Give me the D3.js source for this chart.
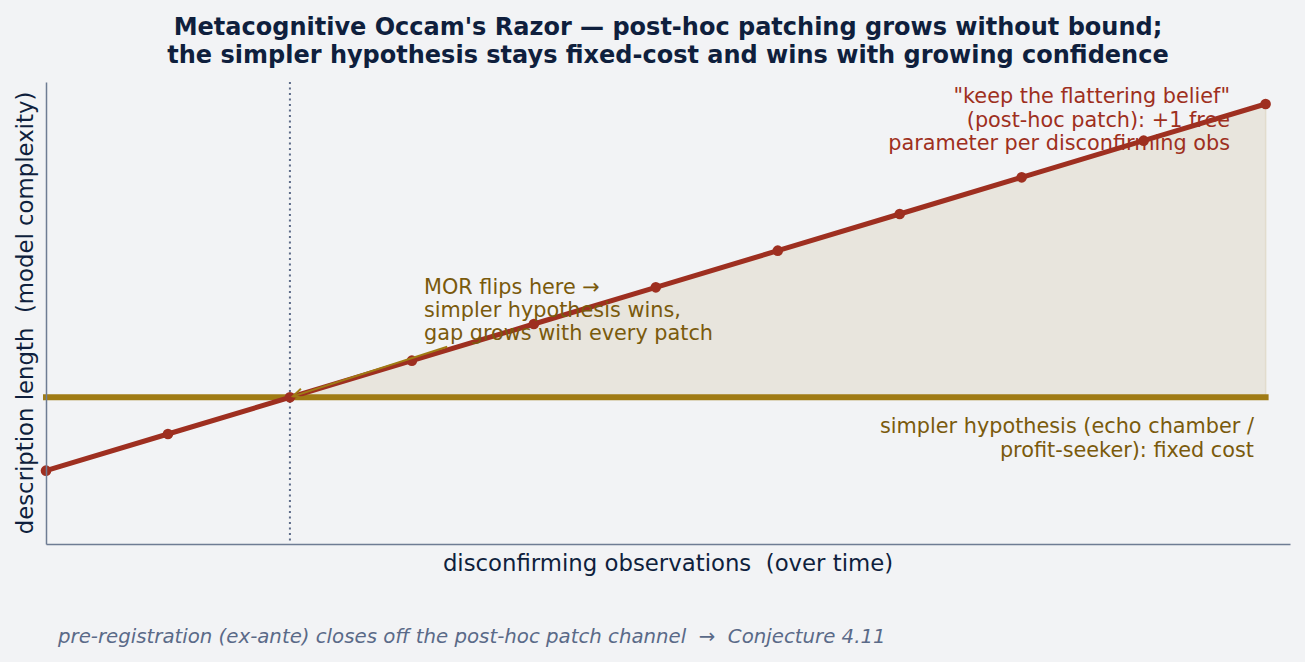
<!DOCTYPE html>
<html><head><meta charset="utf-8">
<script src="https://cdn.jsdelivr.net/npm/d3@7"></script>
<style>
html,body{margin:0;padding:0;background:#f2f3f5;}
svg{display:block;font-family:"DejaVu Sans",sans-serif;}
text{white-space:pre;}
</style></head>
<body>
<svg id="c" width="1305" height="662"></svg>
<script>
// ---- data ----
const observations = [0,1,2,3,4,5,6,7,8,9,10];
const patchedCost = [2,3,4,5,6,7,8,9,10,11,12];
const simpleCost = 4;
const flipX = 2;
const xDomain = [0, 10.2];
const yDomain = [0, 12.6];
const arrowTail = [3.29, 5.38];
const titleLines = ["Metacognitive Occam's Razor \u2014 post-hoc patching grows without bound;",
                    "the simpler hypothesis stays fixed-cost and wins with growing confidence"];
const patchLabel = ["\"keep the flattering belief\"", "(post-hoc patch): +1 free", "parameter per disconfirming obs"];
const simpleLabel = ["simpler hypothesis (echo chamber /", "profit-seeker): fixed cost"];
const flipLabel = ["MOR flips here \u2192", "simpler hypothesis wins,", "gap grows with every patch"];
const xLabel = "disconfirming observations  (over time)";
const yLabel = "description length  (model complexity)";
const footnote = "pre-registration (ex-ante) closes off the post-hoc patch channel  \u2192  Conjecture 4.11";

// ---- layout ----
const M = {left:46, right:1290, top:82, bottom:544};
const RED = "#9e2f20", GOLD = "#a07b14", GOLDTXT = "#7a5a0c", NAVY = "#0f1f3d", SPINE = "#6e7c93";
const svg = d3.select("#c");
const x = d3.scaleLinear().domain(xDomain).range([M.left, M.right]);
const y = d3.scaleLinear().domain(yDomain).range([M.bottom, M.top]);

// fill between (where patched > simple)
const fillData = observations.map((o,i)=>({o, v:patchedCost[i]})).filter(d=>d.o>=flipX);
svg.append("path").datum(fillData)
  .attr("d", d3.area().x(d=>x(d.o)).y0(y(simpleCost)).y1(d=>y(d.v)))
  .attr("fill", "#e8e5dd").attr("stroke", "#e2dccd").attr("stroke-width", 1.5);

// vertical dotted
svg.append("line").attr("x1", x(flipX)).attr("x2", x(flipX)).attr("y1", M.top).attr("y2", M.bottom)
  .attr("stroke", "#5d6b88").attr("stroke-width", 2).attr("stroke-dasharray", "2,3.5");

// simple line
svg.append("path").datum([observations[0], observations[observations.length-1]])
  .attr("d", d3.line().x(d=>x(d)).y(()=>y(simpleCost)))
  .attr("stroke", GOLD).attr("stroke-width", 6).attr("fill","none").attr("stroke-linecap","square");

// patched line
svg.append("path").datum(observations.map((o,i)=>[o, patchedCost[i]]))
  .attr("d", d3.line().x(d=>x(d[0])).y(d=>y(d[1])))
  .attr("stroke", RED).attr("stroke-width", 5).attr("fill","none");
svg.selectAll("circle.p").data(observations.map((o,i)=>[o, patchedCost[i]])).enter()
  .append("circle").attr("cx", d=>x(d[0])).attr("cy", d=>y(d[1])).attr("r", 5.3).attr("fill", RED);

// axes spines (no ticks)
const xAxis = d3.axisBottom(x).tickValues([]).tickSizeOuter(0);
const yAxis = d3.axisLeft(y).tickValues([]).tickSizeOuter(0);
svg.append("g").attr("transform", `translate(0,${M.bottom})`).call(xAxis)
  .select(".domain").attr("stroke", SPINE).attr("stroke-width", 1.5);
svg.append("g").attr("transform", `translate(${M.left},0)`).call(yAxis)
  .select(".domain").attr("stroke", SPINE).attr("stroke-width", 1.5);

// arrow
const tx = x(arrowTail[0]), ty = y(arrowTail[1]), hx = x(flipX)+3, hy = y(simpleCost)-1;
svg.append("line").attr("x1", tx).attr("y1", ty).attr("x2", hx).attr("y2", hy)
  .attr("stroke", GOLD).attr("stroke-width", 2);
const ang = Math.atan2(hy-ty, hx-tx);
const L = 11, W = 0.45;
svg.append("path")
  .attr("d", `M${hx-L*Math.cos(ang-W)},${hy-L*Math.sin(ang-W)} L${hx},${hy} L${hx-L*Math.cos(ang+W)},${hy-L*Math.sin(ang+W)}`)
  .attr("stroke", GOLD).attr("stroke-width", 2).attr("fill","none");

// texts
function lines(arr, xx, y0, dy, anchor, color, size){
  const t = svg.append("text").attr("text-anchor", anchor).attr("fill", color).attr("font-size", size);
  arr.forEach((s,i)=>t.append("tspan").attr("x", xx).attr("y", y0 + i*dy).text(s));
  return t;
}
lines(titleLines, 668, 35, 28, "middle", NAVY, 24).attr("font-weight", "bold");
lines(patchLabel, 1230, 103, 23.5, "end", RED, 20.8);
lines(simpleLabel, 1254, 433, 23.5, "end", GOLDTXT, 20.8);
lines(flipLabel, 424, 294, 23, "start", GOLDTXT, 20.8);

svg.append("text").attr("x", 668).attr("y", 571).attr("text-anchor","middle")
  .attr("fill", NAVY).attr("font-size", 22.8).text(xLabel);
svg.append("text").attr("transform", "translate(33,313) rotate(-90)").attr("text-anchor","middle")
  .attr("fill", NAVY).attr("font-size", 22.8).text(yLabel);
svg.append("text").attr("x", 58).attr("y", 643).attr("fill", "#5a6a88").attr("font-size", 19.75)
  .attr("font-style","italic").text(footnote);
</script>
</body></html>
